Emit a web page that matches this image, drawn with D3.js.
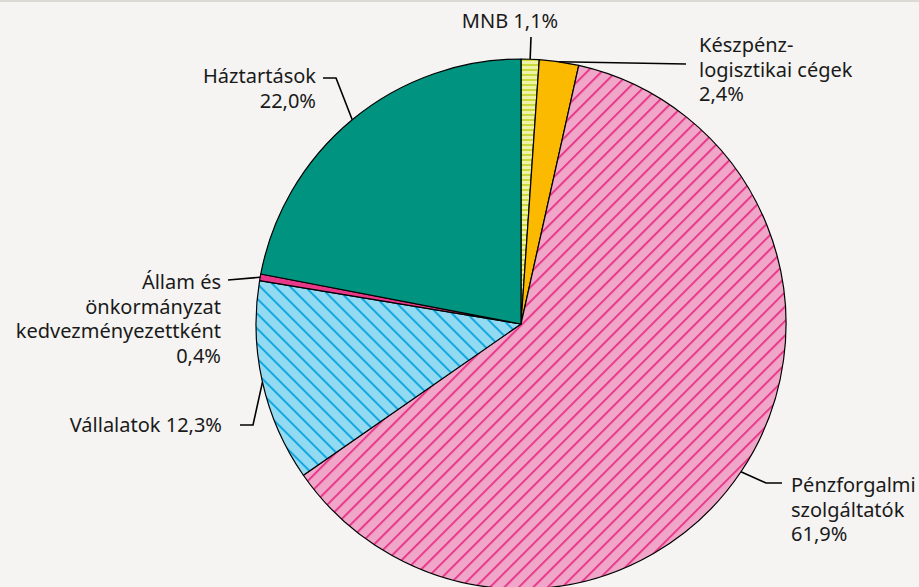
<!DOCTYPE html>
<html><head><meta charset="utf-8">
<script src="https://cdn.jsdelivr.net/npm/d3@7/dist/d3.min.js"></script>
<style>
html,body{margin:0;padding:0;background:#f5f4f2;}
svg{display:block;}
text{font-family:"Noto Sans",sans-serif;font-size:20px;fill:#1a1a1a;}
</style></head>
<body><svg id="c" width="919" height="587"></svg>
<script>
// ---- data ----
const categories = ["MNB", "Készpénz-logisztikai cégek", "Pénzforgalmi szolgáltatók", "Vállalatok", "Állam és önkormányzat kedvezményezettként", "Háztartások"];
const values = [1.1, 2.4, 61.9, 12.3, 0.4, 22.0];
const labelLines = [
  ["MNB 1,1%"],
  ["Készpénz-", "logisztikai cégek", "2,4%"],
  ["Pénzforgalmi", "szolgáltatók", "61,9%"],
  ["Vállalatok 12,3%"],
  ["Állam és", "önkormányzat", "kedvezményezettként", "0,4%"],
  ["Háztartások", "22,0%"]
];
// ---- layout / style ----
const fills = ["url(#pMNB)", "#fbb900", "url(#pPF)", "url(#pV)", "#e8388a", "#00937f"];
const cx = 521, cy = 324, R = 265;
const labelLayout = [
  {anchor:"middle", x:510, y:28, pts:[[531,37]]},
  {anchor:"start", x:699, y:52, pts:[[686,64]]},
  {anchor:"start", x:791, y:492, pts:[[766,483],[782,483]]},
  {anchor:"end", x:222, y:432, pts:[[253,425],[240,425]]},
  {anchor:"end", x:221, y:289, pts:[[228,280]]},
  {anchor:"end", x:316, y:83, pts:[[336,78],[323,78]]}
];
const lineH = 24.5;

const svg = d3.select("#c");
svg.append("rect").attr("width",919).attr("height",587).attr("fill","#f5f4f2");
svg.append("rect").attr("width",919).attr("height",2).attr("fill","#dcdad5");

const defs = svg.append("defs");
const pm = defs.append("pattern").attr("id","pMNB").attr("patternUnits","userSpaceOnUse").attr("width",6).attr("height",5);
pm.append("rect").attr("width",6).attr("height",5).attr("fill","#eef2a6");
pm.append("rect").attr("width",6).attr("height",2).attr("y",0).attr("fill","#c9d93a");
const pp = defs.append("pattern").attr("id","pPF").attr("patternUnits","userSpaceOnUse").attr("width",10.2).attr("height",10.2).attr("patternTransform","rotate(45)");
pp.append("rect").attr("width",10.2).attr("height",10.2).attr("fill","#f0a6c8");
pp.append("rect").attr("width",2).attr("height",10.2).attr("fill","#e8398a");
const pv = defs.append("pattern").attr("id","pV").attr("patternUnits","userSpaceOnUse").attr("width",10.6).attr("height",10.6).attr("patternTransform","rotate(-45)");
pv.append("rect").attr("width",10.6).attr("height",10.6).attr("fill","#92daf2");
pv.append("rect").attr("width",2).attr("height",10.6).attr("fill","#14a8e0");

const pie = d3.pie().sort(null).value(d=>d)(values);
const arc = d3.arc().innerRadius(0).outerRadius(R);
const g = svg.append("g").attr("transform",`translate(${cx},${cy})`);
g.selectAll("path.slice").data(pie).join("path").attr("class","slice")
  .attr("d",arc).attr("fill",(d,i)=>fills[i]).attr("stroke","#000").attr("stroke-width",1.2).attr("stroke-linejoin","round");

pie.forEach((d,i)=>{
  const a = (d.startAngle+d.endAngle)/2;
  const ax = cx + R*Math.sin(a), ay = cy - R*Math.cos(a);
  const L = labelLayout[i];
  const pts = [[ax,ay], ...L.pts];
  svg.append("path").attr("d", d3.line()(pts)).attr("fill","none").attr("stroke","#000").attr("stroke-width",1.6);
  const t = svg.append("text").attr("text-anchor",L.anchor);
  labelLines[i].forEach((s,j)=>{
    t.append("tspan").attr("x",L.x).attr("y",L.y + j*lineH).text(s);
  });
});
</script></body></html>
